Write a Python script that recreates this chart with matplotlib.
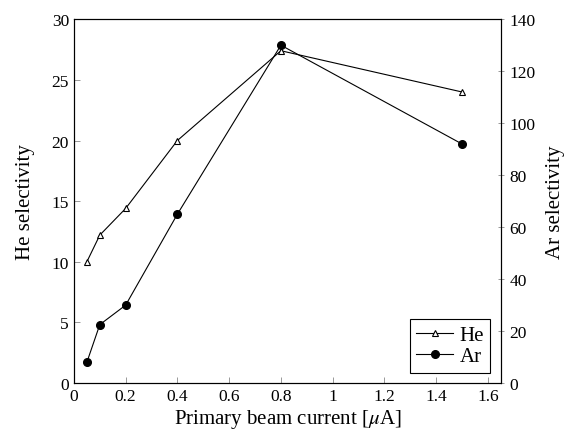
import matplotlib
matplotlib.use('Agg')
import matplotlib.pyplot as plt

plt.rcParams['font.family'] = ['Liberation Serif', 'DejaVu Serif']
plt.rcParams['mathtext.fontset'] = 'stix'

# 数据
current = [0.05, 0.1, 0.2, 0.4, 0.8, 1.5]
he_sel = [10, 12.2, 14.4, 20, 27.4, 24]
ar_sel = [8, 22.5, 30, 65, 130, 92]

fig = plt.figure(figsize=(5.73, 4.39), dpi=100)
ax = fig.add_axes([0.129, 0.125, 0.745, 0.829])
ax2 = ax.twinx()

l1, = ax.plot(current, he_sel, 'k-', marker='^', mfc='white', mec='k', ms=4.5, mew=0.8, lw=0.8, label='He')
l2, = ax2.plot(current, ar_sel, 'k-', marker='o', ms=5.5, lw=0.8, label='Ar')

ax.set_xlim(0, 1.65)
ax.set_ylim(0, 30)
ax2.set_ylim(0, 140)
ax.set_xticks([0, 0.2, 0.4, 0.6, 0.8, 1, 1.2, 1.4, 1.6])
ax.set_xticklabels(['0', '0.2', '0.4', '0.6', '0.8', '1', '1.2', '1.4', '1.6'])
ax.set_yticks(range(0, 31, 5))
ax2.set_yticks(range(0, 141, 20))

ax.tick_params(direction='in', length=4, width=0.6, labelsize=12.5, colors='#888888', labelcolor='black')
ax2.tick_params(direction='inout', length=5, width=0.6, labelsize=12.5, colors='#888888', labelcolor='black')
for a in (ax, ax2):
    for s in a.spines.values():
        s.set_linewidth(0.8)

ax.set_xlabel(r'Primary beam current [$\mu$A]', fontsize=15, labelpad=2)
ax.set_ylabel('He selectivity', fontsize=15, labelpad=12)
ax2.set_ylabel('Ar selectivity', fontsize=15, labelpad=8)

leg = ax2.legend([l1, l2], ['He', 'Ar'], loc='lower right', fontsize=15, fancybox=False,
                 edgecolor='black', framealpha=1, handlelength=1.8, handletextpad=0.3,
                 borderpad=0.3, labelspacing=0.1, borderaxespad=0.5)
leg.get_frame().set_linewidth(0.8)

fig.savefig('out.png', dpi=100)
